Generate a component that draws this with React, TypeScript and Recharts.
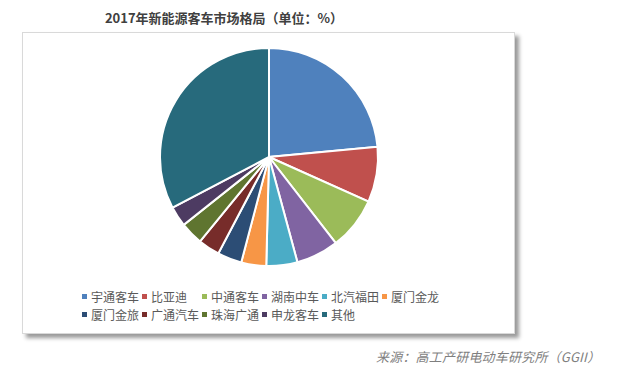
import { PieChart, Pie, Cell, Legend } from 'recharts';

const companies = ['宇通客车', '比亚迪', '中通客车', '湖南中车', '北汽福田', '厦门金龙', '厦门金旅', '广通汽车', '珠海广通', '申龙客车', '其他'];
const shares = [23.5, 8.2, 7.8, 6.3, 4.6, 3.7, 3.6, 3.2, 3.4, 3.0, 32.7];
const colors = ['#4F81BD', '#C0504D', '#9BBB59', '#8064A2', '#4BACC6', '#F79646', '#2C4D75', '#772C2A', '#5F7530', '#4D3B62', '#276A7C'];

const data = companies.map((name, i) => ({ name, value: shares[i] }));

const font = '"Noto Sans CJK SC", "Noto Sans", sans-serif';

function renderLegend() {
  return (
    <div style={{ display: 'flex', flexWrap: 'wrap', width: 372, fontFamily: font, fontSize: 12, color: '#595959' }}>
      {companies.map((name, i) => (
        <div key={name} style={{ width: 60, height: 18, display: 'flex', alignItems: 'center', whiteSpace: 'nowrap' }}>
          <span style={{ width: 5, height: 5, background: colors[i], marginRight: 4, flexShrink: 0 }} />
          <span>{name}</span>
        </div>
      ))}
    </div>
  );
}

export default function App() {
  return (
    <div style={{ position: 'absolute', left: 0, top: 0, width: 632, height: 374, background: '#fff', overflow: 'hidden' }}>
      <div style={{ position: 'absolute', left: 0, width: 448, top: 8, textAlign: 'center', fontFamily: font, fontWeight: 'bold', fontSize: 13, color: '#404040' }}>
        2017年新能源客车市场格局（单位：%）
      </div>

      <div style={{ position: 'absolute', left: 22, top: 32, width: 491, height: 300, border: '1px solid #d9d9d9', boxShadow: '4px 4px 4px rgba(0,0,0,0.4)', background: '#fff' }} />

      <div style={{ position: 'absolute', left: 0, top: 0 }}>
        <PieChart width={632} height={374} margin={{ top: 0, right: 0, bottom: 0, left: 0 }}>
          <Pie
            data={data}
            dataKey="value"
            nameKey="name"
            cx={269}
            cy={157}
            outerRadius={109}
            startAngle={90}
            endAngle={-270}
            stroke="#fff"
            strokeWidth={2}
            isAnimationActive={false}
          >
            {data.map((d, i) => (
              <Cell key={d.name} fill={colors[i]} />
            ))}
          </Pie>
          <Legend content={renderLegend} wrapperStyle={{ left: 82, top: 287, width: 380 }} />
        </PieChart>
      </div>

      <div style={{ position: 'absolute', left: 376, top: 347, fontFamily: font, fontStyle: 'italic', fontSize: 13, letterSpacing: 0.2, color: '#7f7f7f', whiteSpace: 'nowrap' }}>
        来源：高工产研电动车研究所（GGII）
      </div>
    </div>
  );
}
